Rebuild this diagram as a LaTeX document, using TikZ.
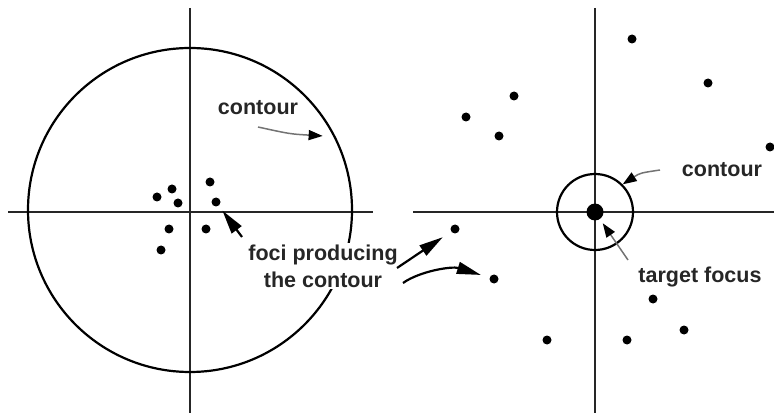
\documentclass[tikz,border=0pt]{standalone}
\usepackage{fontspec}
\setmainfont{Liberation Sans}
\usetikzlibrary{arrows.meta}

\begin{document}
\begin{tikzpicture}[
  x=1pt, y=-1pt,
  axis/.style={line width=2.2pt, black!85},
  ring/.style={circle, draw, line width=2.2pt, inner sep=0pt},
  focus/.style={circle, fill=black, inner sep=0pt, minimum size=9pt},
  tag/.style={font=\fontsize{21.5}{27}\selectfont\bfseries, align=center,
    text=black!85, inner sep=2pt},
  arr/.style={-{Triangle[length=24pt,width=12pt]}, line width=2.2pt},
  hint/.style={-{Triangle[length=14pt,width=10pt,black]}, line width=1.5pt, draw=black!55},
]
\useasboundingbox (0,0) rectangle (774,414);

% left panel: wide contour
\draw[axis] (190,8) -- (190,413);
\draw[axis] (8,212) -- (373,212);
\draw[axis, line width=2.8pt] (250,212) -- (373,212);
\node[ring, minimum size=324pt] (bigring) at (190,210) {};

\node[focus] (l1) at (157,197) {};
\node[focus] (l2) at (172,189) {};
\node[focus] (l3) at (178,203) {};
\node[focus] (l4) at (210,182) {};
\node[focus] (l5) at (216,202) {};
\node[focus] (l6) at (169,229) {};
\node[focus] (l7) at (206,229) {};
\node[focus] (l8) at (161,250) {};

\node[tag] (ctL) at (258,108) {contour};
\node[tag, fill=white] (foci) at (323,266) {foci producing\\the contour};

% right panel: narrow contour
\draw[axis] (595,8) -- (595,413);
\draw[axis] (413,212) -- (774,212);
\draw[axis, line width=2.8pt] (655,212) -- (774,212);
\node[ring, minimum size=76pt] (tgtring) at (595,212) {};
\node[focus, minimum size=17pt] (tgt) at (595,212) {};

\node[focus] (r1) at (632,39) {};
\node[focus] (r2) at (708,83) {};
\node[focus] (r3) at (514,96) {};
\node[focus] (r4) at (466,117) {};
\node[focus] (r5) at (499,136) {};
\node[focus] (r6) at (770,147) {};
\node[focus] (r7) at (455,229) {};
\node[focus] (r8) at (494,279) {};
\node[focus] (r9) at (653,299) {};
\node[focus] (r10) at (684,330) {};
\node[focus] (r11) at (547,340) {};
\node[focus] (r12) at (627,340) {};

\node[tag] (ctR) at (722,170) {contour};
\node[tag] (target) at (700,277) {target focus};

\coordinate (ctLtail) at (258,127);
\coordinate (ctRtail) at (660,170);
\coordinate (tgttail) at (628,260);
\coordinate (focitail1) at (242,237);
\coordinate (focitail2) at (397,268);
\coordinate (focitail3) at (403,283);

\draw[hint] (ctLtail) .. controls (290,134) .. ([shift={(-10pt,-5pt)}]bigring.29);
\draw[hint] (ctRtail) .. controls (640,173) .. (tgtring.45);
\draw[hint, shorten >=5pt] (tgttail) -- (tgt);

\draw[arr, shorten >=6pt] (focitail1) -- (l5);
\draw[arr, shorten >=10pt] (focitail2) -- (r7);
\draw[arr, shorten >=9pt] (focitail3) .. controls (420,271) and (452,266) .. (r8);

\end{tikzpicture}
\end{document}
